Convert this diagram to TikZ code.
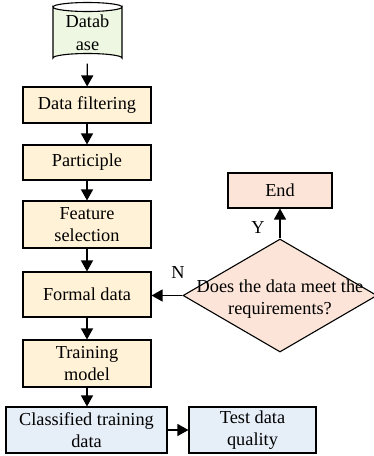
\documentclass[tikz,border=0pt]{standalone}
\usepackage{fontspec}
\setmainfont{Liberation Serif}
\usetikzlibrary{arrows.meta,shapes.geometric}
\definecolor{dbgreen}{HTML}{EEF7E1}
\definecolor{stepyellow}{HTML}{FFF2D6}
\definecolor{endpink}{HTML}{FCE5D8}
\definecolor{outblue}{HTML}{E6EEF8}
\tikzset{
  lbl/.style={font=\fontsize{18.3}{22.5}\selectfont},
  procbox/.style={draw, line width=1.1pt, align=center, inner sep=0pt, lbl},
  yellowbox/.style={procbox, fill=stepyellow, minimum width=128pt},
  bluebox/.style={procbox, fill=outblue, minimum height=46pt},
  flow/.style={line width=1.3pt, -{Triangle[width=12pt,length=11pt]}},
}
\begin{document}
\begin{tikzpicture}[x=1pt,y=-1pt]
\useasboundingbox (0,0) rectangle (374,456);

% database cylinder
\fill[dbgreen] (53,7) -- (53,58) arc[start angle=180,end angle=360,x radius=34.5,y radius=4.5]
  -- (122,7) arc[start angle=0,end angle=180,x radius=34.5,y radius=4.5] -- cycle;
\draw[line width=1.1pt] (53,7) -- (53,58) arc[start angle=180,end angle=360,x radius=34.5,y radius=4.5]
  -- (122,7) arc[start angle=0,end angle=180,x radius=34.5,y radius=4.5] -- cycle;
\draw[line width=1.1pt] (53,7) arc[start angle=180,end angle=360,x radius=34.5,y radius=4.5];
\node[lbl, align=center, minimum width=69pt, minimum height=62pt, inner sep=0pt] (db) at (87.5,32.5) {Datab\\ase};

% main column
\node[yellowbox, minimum height=36pt] (filt) at (87,105) {Data filtering};
\node[yellowbox, minimum height=35pt] (part) at (87,162.5) {Participle};
\node[yellowbox, minimum height=47pt] (feat) at (87,224.5) {Feature\\selection};
\node[yellowbox, minimum height=45pt] (formal) at (87,294.5) {Formal data};
\node[yellowbox, minimum height=47pt] (train) at (87,363.5) {Training\\model};
\node[bluebox, minimum width=161pt] (class) at (86.5,430) {Classified training\\data};
\node[bluebox, minimum width=127pt] (test) at (252.5,430) {Test data\\quality};

% decision and end
\node[procbox, fill=endpink, minimum width=104pt, minimum height=35pt] (end) at (280,190.5) {End};
\node[diamond, draw, line width=1.1pt, fill=endpink, minimum width=194pt, minimum height=113pt, inner sep=0pt] (dec) at (280,295.5) {};
\node[lbl, align=center] (dectext) at (280,299) {Does the data meet the\\requirements?};

% connectors
\draw[flow] (db) -- (filt);
\draw[flow] (filt) -- (part);
\draw[flow] (part) -- (feat);
\draw[flow] (feat) -- (formal);
\draw[flow] (formal) -- (train);
\draw[flow] (train.south) -- (train.south |- class.north);
\draw[flow] (class) -- (test);
\draw[flow] (dec.west) -- (formal.east |- dec.west);
\draw[flow] (dec.north) -- (end.south);

\node[lbl] (nlab) at (178,273) {N};
\node[lbl] (ylab) at (258,228) {Y};
\end{tikzpicture}
\end{document}
